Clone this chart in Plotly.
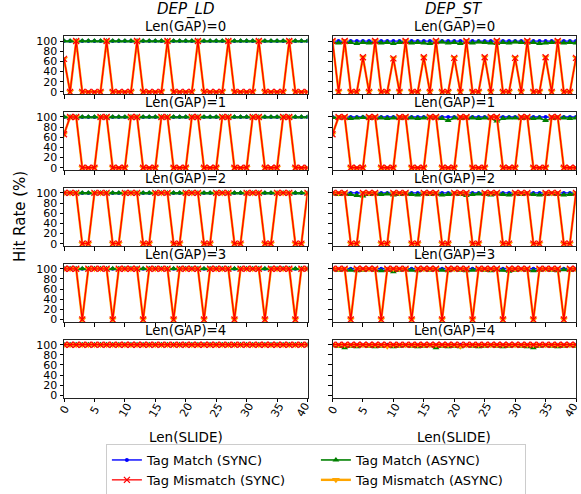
import plotly.graph_objects as go
from plotly.subplots import make_subplots

# ---------------- data ----------------
slide = list(range(41))
gaps = [0, 1, 2, 3, 4]
deps = ["DEP_LD", "DEP_ST"]
x_ticks = [0, 5, 10, 15, 20, 25, 30, 35, 40]
x_tick_labels = ["0", "5", "10", "15", "20", "25", "30", "35", "40"]
y_ticks = [0, 20, 40, 60, 80, 100]

all_100 = [100, 100, 100, 100, 100, 100, 100, 100, 100, 100, 100, 100, 100, 100,
           100, 100, 100, 100, 100, 100, 100, 100, 100, 100, 100, 100, 100, 100,
           100, 100, 100, 100, 100, 100, 100, 100, 100, 100, 100, 100, 100]

# DEP_LD  - Tag Mismatch (SYNC / ASYNC)
ld_mis_g0 = [65, 0, 100,
             0, 0, 0, 0, 100, 0, 0, 0, 0, 100, 0, 0, 0, 0, 100, 0, 0, 0, 0, 100,
             0, 0, 0, 0, 100, 0, 0, 0, 0, 100, 0, 0, 0, 0, 100, 0, 0, 0, 0, 100,
             0, 0, 0]
ld_mis_g1 = [66, 100, 100,
             0, 0, 0, 100, 100, 0, 0, 0, 100, 100, 0, 0, 0, 100, 100, 0, 0, 0, 100, 100,
             0, 0, 0, 100, 100, 0, 0, 0, 100, 100, 0, 0, 0, 100, 100, 0, 0, 0, 100, 100,
             0, 0, 0]
ld_mis_g2 = [100, 100, 100,
             0, 0, 100, 100, 100, 0, 0, 100, 100, 100, 0, 0, 100, 100, 100, 0, 0, 100, 100, 100,
             0, 0, 100, 100, 100, 0, 0, 100, 100, 100, 0, 0, 100, 100, 100, 0, 0, 100, 100, 100,
             0, 0, 100]
ld_mis_g3 = [100, 100, 100,
             0, 100, 100, 100, 100, 0, 100, 100, 100, 100, 0, 100, 100, 100, 100, 0, 100, 100, 100, 100,
             0, 100, 100, 100, 100, 0, 100, 100, 100, 100, 0, 100, 100, 100, 100, 0, 100, 100, 100, 100,
             0, 100, 100]
ld_mis_g4 = all_100

# DEP_ST - Tag Mismatch (SYNC)
st_mis_g0 = [100, 0, 100,
             0, 0, 68, 0, 100, 0, 0, 66, 0, 100, 0, 0, 68, 0, 100, 0, 0, 67, 0, 100,
             0, 0, 68, 0, 100, 0, 0, 67, 0, 100, 0, 0, 68, 0, 100, 0, 0, 67, 0, 100,
             0, 0, 67]
st_mis_g1 = ld_mis_g1
st_mis_g2 = ld_mis_g2
st_mis_g3 = ld_mis_g3
st_mis_g4 = all_100

# DEP_ST - Tag Mismatch (ASYNC)
st_amis_g0 = st_mis_g0
st_amis_g1 = [66, 100, 100,
              0, 0, 0, 100, 100, 0, 0, 0, 100, 100, 0, 0, 0, 100, 100, 0, 0, 0, 100, 100,
              0, 0, 0, 100, 100, 0, 0, 0, 100, 100, 0, 0, 0, 100, 100, 0, 0, 0, 100, 100,
              0, 0, 22]
st_amis_g2 = ld_mis_g2
st_amis_g3 = ld_mis_g3
st_amis_g4 = [100, 100, 100, 100, 100, 100, 100, 100, 100, 97, 100, 100, 100, 100,
              100, 100, 100, 100, 100, 100, 100, 97, 100, 100, 100, 100, 100, 100,
              100, 100, 100, 100, 100, 100, 100, 100, 100, 100, 100, 100, 100]

# DEP_ST - Tag Match (ASYNC)
st_amat_g0 = [97, 96, 98, 97, 95, 97, 96, 98, 96, 97, 95, 97, 98, 96, 97, 96, 95, 97, 98, 96, 97,
              95, 97, 96, 98, 97, 96, 95, 97, 96, 98, 97, 96, 97, 95, 96, 97, 98, 96, 97, 96]
st_amat_g1 = [99, 98, 98, 97, 98, 99, 97, 98, 98, 97, 98, 97, 98, 98, 97, 98, 99, 98, 97, 93, 98,
              97, 98, 98, 97, 98, 97, 92, 97, 98, 98, 97, 98, 97, 98, 93, 97, 98, 98, 97, 98]
st_amat_g2 = [98, 97, 98, 97, 95, 94, 97, 98, 97, 98, 96, 97, 98, 97, 96, 98, 97, 98, 96, 97, 98,
              97, 95, 97, 98, 97, 96, 98, 97, 96, 98, 97, 98, 97, 96, 97, 98, 97, 96, 97, 98]
st_amat_g3 = [98, 97, 98, 97, 96, 97, 98, 97, 96, 97, 94, 97, 98, 97, 96, 98, 97, 98, 97, 96, 98,
              97, 96, 97, 98, 97, 96, 98, 97, 95, 97, 98, 97, 96, 97, 98, 97, 96, 98, 97, 98]
st_amat_g4 = [98, 97, 94, 97, 96, 98, 97, 96, 97, 98, 96, 97, 98, 97, 96, 97, 98, 94, 97, 96, 97,
              96, 98, 97, 96, 97, 98, 97, 96, 97, 98, 97, 96, 94, 97, 98, 97, 96, 97, 98, 97]

data = {
    "DEP_LD": {
        "match_sync": [all_100] * 5,
        "mis_sync": [ld_mis_g0, ld_mis_g1, ld_mis_g2, ld_mis_g3, ld_mis_g4],
        "match_async": [all_100] * 5,
        "mis_async": [ld_mis_g0, ld_mis_g1, ld_mis_g2, ld_mis_g3, ld_mis_g4],
    },
    "DEP_ST": {
        "match_sync": [all_100] * 5,
        "mis_sync": [st_mis_g0, st_mis_g1, st_mis_g2, st_mis_g3, st_mis_g4],
        "match_async": [st_amat_g0, st_amat_g1, st_amat_g2, st_amat_g3, st_amat_g4],
        "mis_async": [st_amis_g0, st_amis_g1, st_amis_g2, st_amis_g3, st_amis_g4],
    },
}

# ---------------- styles ----------------
styles = {
    "match_sync": dict(name="Tag Match (SYNC)", rank=1,
                       line=dict(color="blue", width=1.4),
                       marker=dict(symbol="circle", size=4, color="blue")),
    "match_async": dict(name="Tag Match (ASYNC)", rank=2,
                        line=dict(color="green", width=1.6),
                        marker=dict(symbol="triangle-up", size=6, color="green")),
    "mis_async": dict(name="Tag Mismatch (ASYNC)", rank=4,
                      line=dict(color="orange", width=2.4),
                      marker=dict(symbol="triangle-down", size=7, color="orange")),
    "mis_sync": dict(name="Tag Mismatch (SYNC)", rank=3,
                     line=dict(color="red", width=1.3),
                     marker=dict(symbol="x-thin", size=6, color="red",
                                 line=dict(color="red", width=1.3))),
}
draw_order = ["match_sync", "match_async", "mis_async", "mis_sync"]

H_PLOT = 362.0
W_PLOT = 512.0
fig = make_subplots(rows=5, cols=2, vertical_spacing=17.5 / H_PLOT,
                    horizontal_spacing=25 / W_PLOT)

for c, dep in enumerate(deps):
    for r, g in enumerate(gaps):
        for key in draw_order:
            st = styles[key]
            fig.add_trace(go.Scatter(
                x=slide, y=data[dep][key][r], mode="lines+markers",
                name=st["name"], legendgroup=key, legendrank=st["rank"],
                showlegend=(r == 0 and c == 0),
                line=st["line"], marker=st["marker"], cliponaxis=True,
            ), row=r + 1, col=c + 1)

FONT = "DejaVu Sans"
for r in range(5):
    for c in range(2):
        fig.update_xaxes(row=r + 1, col=c + 1, range=[0, 40], tickvals=x_ticks,
                         ticks="outside", ticklen=3.5, tickwidth=0.8, tickcolor="black",
                         showline=True, mirror=True, linecolor="#222", linewidth=0.9,
                         showgrid=False, zeroline=False, showticklabels=False)
        fig.update_yaxes(row=r + 1, col=c + 1, range=[-5, 110], tickvals=y_ticks,
                         ticks="outside", ticklen=3.5, tickwidth=0.8, tickcolor="black",
                         showline=True, mirror=True, linecolor="#222", linewidth=0.9,
                         showgrid=False, zeroline=False,
                         showticklabels=(c == 0),
                         tickfont=dict(size=11, color="black", family=FONT))

# annotations
ann = []
col_centers = []
for c in range(2):
    xa = fig.layout["xaxis" + ("" if c == 0 else str(c + 1))]
    col_centers.append((xa.domain[0] + xa.domain[1]) / 2)
for c, dep in enumerate(deps):
    ann.append(dict(text="<i>" + dep + "</i>", x=col_centers[c], y=(398 - 9.5) / H_PLOT,
                    xref="paper", yref="paper", xanchor="center", yanchor="middle",
                    showarrow=False, font=dict(size=15, color="black", family=FONT)))
    ann.append(dict(text="Len(SLIDE)", x=col_centers[c], y=(398 - 437) / H_PLOT,
                    xref="paper", yref="paper", xanchor="center", yanchor="middle",
                    showarrow=False, font=dict(size=13.5, color="black", family=FONT)))
    # rotated x tick labels of bottom row (anchored on the axis scale)
    ax_id = 9 + c
    for tv, tl in zip(x_ticks, x_tick_labels):
        ann.append(dict(text=tl, x=tv, y=0, xref="x%d" % ax_id, yref="y%d domain" % ax_id,
                        xanchor="center", yanchor="middle", yshift=-12,
                        xshift=(-5 if tv == 40 else 0), textangle=-60,
                        showarrow=False, font=dict(size=11, color="black", family=FONT)))
for r, g in enumerate(gaps):
    ya = fig.layout["yaxis" + ("" if r == 0 else str(2 * r + 1))]
    for c in range(2):
        ann.append(dict(text="Len(GAP)=%d" % g, x=col_centers[c], y=ya.domain[1],
                        xref="paper", yref="paper", xanchor="center", yanchor="bottom",
                        yshift=0, showarrow=False,
                        font=dict(size=13.3, color="black", family=FONT)))
ann.append(dict(text="Hit Rate (%)", textangle=-90, x=(20 - 64) / W_PLOT, y=0.5,
                xref="paper", yref="paper", xanchor="center", yanchor="middle",
                showarrow=False, font=dict(size=15, color="black", family=FONT)))

fig.update_layout(
    width=581, height=494,
    margin=dict(l=64, r=5, t=36, b=96),
    paper_bgcolor="white", plot_bgcolor="white",
    font=dict(family=FONT, color="black"),
    annotations=ann,
    legend=dict(orientation="h", x=0.492, xanchor="center",
                yref="container", y=1 - 444 / 494, yanchor="top",
                bordercolor="#cccccc", borderwidth=1, bgcolor="white",
                font=dict(size=13, color="black", family=FONT),
                entrywidth=164, entrywidthmode="pixels", traceorder="normal"),
)

fig.write_html("out.html", config={"displayModeBar": False},
               post_script="document.body.style.margin='0px';"
                           "document.body.style.overflow='hidden';")
